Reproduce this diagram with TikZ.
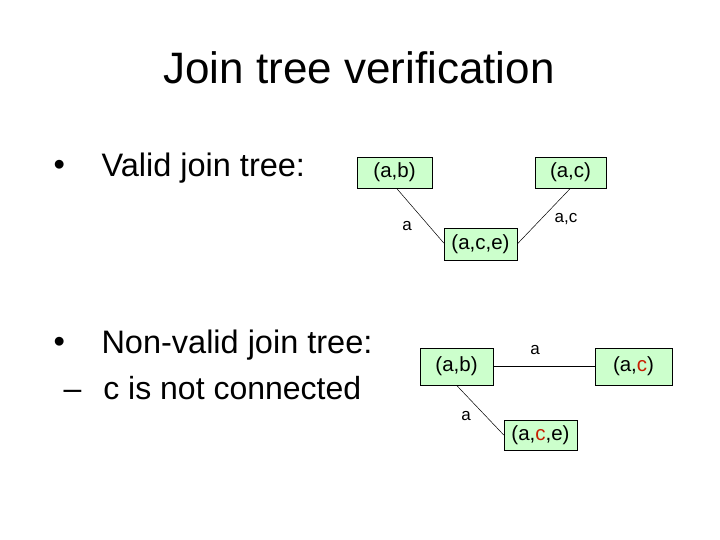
\documentclass[tikz,border=0pt]{standalone}
\usepackage{fontspec}
\setmainfont{Liberation Sans}
\begin{document}
\begin{tikzpicture}[x=1pt,y=-1pt,
  box/.style={draw=black,line width=0.5pt,fill={rgb,255:red,204;green,255;blue,204},inner sep=0pt,font=\fontsize{20.5}{24}\selectfont},
  elab/.style={font=\fontsize{17}{19}\selectfont},
  big/.style={font=\fontsize{32.5}{36}\selectfont,anchor=west},
  ln/.style={line width=0.5pt}]
\useasboundingbox (0,0) rectangle (720,540);
\node[font=\fontsize{44}{50}\selectfont] (title) at (359,68) {Join tree verification};
\node[big] (b1) at (50,168) {•};
\node[big] (t1) at (98,168) {Valid join tree:};
\node[big] (b2) at (50,345) {•};
\node[big] (t2) at (98,345) {Non-valid join tree:};
\node[big,font=\fontsize{32}{35}\selectfont] (t3) at (60,388) {–\hspace{22pt}c is not connected};
\definecolor{cred}{RGB}{200,30,0}
% top tree
\node[box,minimum width=75pt,minimum height=31pt] (ab) at (394.5,172.5) {(a,b)};
\node[box,minimum width=71pt,minimum height=31pt] (ac) at (570.5,172.5) {(a,c)};
\node[box,minimum width=73pt,minimum height=32pt] (ace) at (480.5,244) {(a,c,e)};
\draw[ln] (ab.south) ++(2,0) coordinate (p1) -- (ace.west |- 0,243) coordinate (p2);
\draw[ln] (ac.south) -- (ace.east);
\node[elab] (l1) at (407,226) {a};
\node[elab] (l2) at (566,219) {a,c};
% bottom tree
\node[box,minimum width=73pt,minimum height=37pt] (ab2) at (456.5,366.5) {(a,b)};
\node[box,minimum width=77pt,minimum height=37pt] (ac2) at (633.5,366.5) {(a,\textcolor{cred}{c})};
\node[box,minimum width=73pt,minimum height=30pt] (ace2) at (540.5,435) {(a,\textcolor{cred}{c},e)};
\draw[ln] (ab2.east) -- (ac2.west);
\draw[ln] (ab2.south) -- (ace2.west);
\node[elab] (l3) at (535,350) {a};
\node[elab] (l4) at (466,416) {a};
\end{tikzpicture}
\end{document}
